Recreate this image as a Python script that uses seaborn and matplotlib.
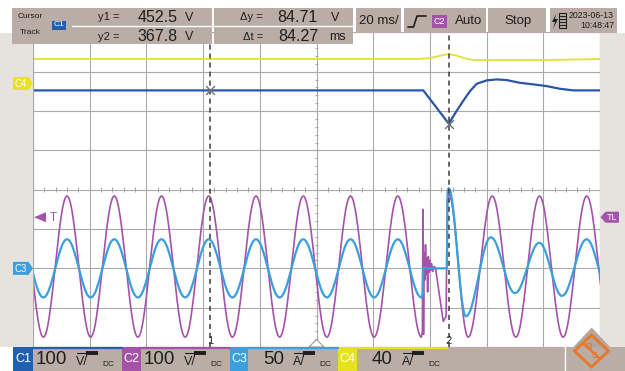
import numpy as np
import pandas as pd
import matplotlib
matplotlib.use("Agg")
import matplotlib.pyplot as plt
from matplotlib.patches import Rectangle, Polygon
import seaborn as sns

# ---------------- data (time in ms relative to trigger, 20 ms/div) ----------------
c2_pre_t = [-104.67, -96.33, -88.0, -79.67, -71.33, -63.0, -54.67, -46.33, -38.0,
            -29.67, -21.33, -13.0, -4.67, 3.67, 12.0, 20.33, 28.67, 37.0]
c2_pre_v = [184, -175, 184, -175, 184, -175, 184, -175, 184,
            -175, 184, -175, 184, -175, 184, -175, 184, -175]
c2_evt_t = [37.35, 37.55, 37.75, 37.95, 38.2, 38.45, 38.7, 38.95, 39.2, 39.45,
            39.7, 40.0, 40.3, 40.6, 41.0, 41.5, 42.0, 44.7, 45.7, 46.15]
c2_evt_v = [-160, 150, -168, 40, -30, 60, -15, 25, -60, 30,
            -10, 20, -5, 12, -8, 5, 0, -135, -122, 175]
c2_post_t = [46.67, 53.5, 62.0, 70.33, 78.67, 87.0, 95.33, 103.67]
c2_post_v = [188, -175, 184, -175, 184, -175, 184, -175]

# C3 (light blue, A)
c3_pre_t = [-104.67, -96.33, -88.0, -79.67, -71.33, -63.0, -54.67, -46.33, -38.0,
            -29.67, -21.33, -13.0, -4.67, 3.67, 12.0, 20.33, 28.67, 37.0]
c3_pre_v = [37, -37, 37, -37, 37, -37, 37, -37, 37,
            -37, 37, -37, 37, -37, 37, -37, 37, -37]
c3_evt_t = [37.45, 37.6, 46.0, 46.25]
c3_evt_v = [-33, 0, 0, 98]
c3_post_t = [46.6, 52.7, 61.5, 70.0, 78.6, 86.6, 95.3, 103.7]
c3_post_v = [102, -61, 39.5, -31.5, 32.5, -35, 37, -37]

# C1 (dark blue, V)
c1_t = [-100, 37.67, 46.67, 49.38, 51.7, 54.14, 56.5, 60.0, 63.56, 67.1,
        71.8, 76.5, 81.2, 85.9, 90.6, 100]
c1_v = [452.5, 452.5, 367.8, 399.9, 425.3, 450.7, 469.3, 477.9, 480.5, 478.7,
        471.8, 467.8, 463.4, 456.6, 452.5, 452.5]

# C4 (yellow, A)
c4_t = [-100, 35.3, 40.0, 44.0, 46.67, 49.5, 52.5, 55.3, 80.0, 100]
c4_v = [24.9, 24.9, 25.8, 28.5, 30.0, 28.3, 25.5, 23.9, 23.9, 24.9]

# channel settings
ch_names = ["C1", "C2", "C3", "C4"]
ch_scale = [100, 100, 50, 40]          # units / div
ch_unit = ["V", "V", "A", "A"]
ch_offset = [-2.0, -2.0, -2.0, 2.7]    # div
ch_color = ["#2a55a8", "#a452aa", "#3a9fdc", "#e4e03a"]
ch_tag = ["#2160ae", "#a452aa", "#3a9fdc", "#e8e21e"]

cursor_t = [-37.6, 46.67]
cursor_v = [452.5, 367.8]
trig_level_div = -0.7

# ---------------- helpers ----------------
def wave(ts, vs, n=24):
    """smooth half-cosine drawing between consecutive read extrema"""
    tt, vv = [], []
    for i in range(len(ts) - 1):
        s = np.linspace(0.0, 1.0, n, endpoint=False)
        tt.extend(ts[i] + (ts[i + 1] - ts[i]) * s)
        vv.extend(vs[i] + (vs[i + 1] - vs[i]) * (1 - np.cos(np.pi * s)) / 2)
    tt.append(ts[-1]); vv.append(vs[-1])
    return list(tt), list(vv)


def frame(t, v, idx):
    v = np.asarray(v, float)
    return pd.DataFrame({"t": t, "div": v / ch_scale[idx] + ch_offset[idx]})


a_t, a_v = wave(c2_pre_t, c2_pre_v)
b_t, b_v = wave(c2_post_t, c2_post_v)
df_c2 = frame(a_t + c2_evt_t + b_t, a_v + c2_evt_v + b_v, 1)
a_t, a_v = wave(c3_pre_t, c3_pre_v)
b_t, b_v = wave(c3_post_t, c3_post_v)
df_c3 = frame(a_t + c3_evt_t + b_t, a_v + c3_evt_v + b_v, 2)
df_c1 = frame(c1_t, c1_v, 0)
df_c4 = frame(c4_t, c4_v, 3)

# ---------------- figure ----------------
sns.set_theme(style="white")
plt.rcParams["font.family"] = ["Liberation Sans Narrow", "Liberation Sans", "DejaVu Sans"]

W, H = 625, 371
PL, PR, PT, PB = 33, 600, 32.4, 347
fig = plt.figure(figsize=(6.25, 3.71), dpi=100, facecolor="white")
ax = fig.add_axes([PL / W, 1 - PB / H, (PR - PL) / W, (PB - PT) / H], zorder=1)
ax.set_facecolor("white")

grid_c = "#a9a9a9"
ax.set_xlim(-100, 100)
ax.set_ylim(-4, 4)
ax.set_xticks(np.arange(-100, 101, 20))
ax.set_yticks(np.arange(-4, 5, 1))
ax.grid(True, color=grid_c, lw=0.8)
ax.tick_params(length=0, labelbottom=False, labelleft=False)
for sp in ax.spines.values():
    sp.set_color(grid_c); sp.set_linewidth(0.8)
ax.vlines(np.arange(-100, 101, 4), -0.07, 0.07, color=grid_c, lw=0.8)
ax.hlines(np.arange(-4, 4.01, 0.2), -0.6, 0.6, color=grid_c, lw=0.8)

sns.lineplot(data=df_c4, x="t", y="div", ax=ax, color=ch_color[3], lw=1.3,
             estimator=None, sort=False, legend=False)
sns.lineplot(data=df_c1, x="t", y="div", ax=ax, color=ch_color[0], lw=1.6,
             estimator=None, sort=False, legend=False)
sns.lineplot(data=df_c2, x="t", y="div", ax=ax, color=ch_color[1], lw=1.2,
             estimator=None, sort=False, legend=False)
sns.lineplot(data=df_c3, x="t", y="div", ax=ax, color=ch_color[2], lw=1.6,
             estimator=None, sort=False, legend=False)
ax.set_xlabel(""); ax.set_ylabel("")

for t in cursor_t:
    ax.axvline(t, color="#3a3a3a", lw=1.1, ls=(0, (3.3, 2.6)), zorder=5)
ax.scatter(cursor_t, np.array(cursor_v) / ch_scale[0] + ch_offset[0], marker="x",
           s=40, color="#707070", lw=1.0, zorder=6)

# ---------------- overlay (pixel coordinates) ----------------
ov = fig.add_axes([0, 0, 1, 1], zorder=10)
ov.set_xlim(0, W); ov.set_ylim(H, 0); ov.axis("off")


def ypx(div):
    return PT + (4 - div) * (PB - PT) / 8


def xpx(t):
    return PL + (t + 100) * (PR - PL) / 200


def rect(x0, y0, x1, y1, c, **kw):
    ov.add_patch(Rectangle((x0, y0), x1 - x0, y1 - y0, color=c, lw=0, **kw))


strip = "#e6e2de"
hdr = "#b9ada5"
rect(0, 33, PL, PB, strip)
rect(PR, 33, W, PB, strip)

# header boxes
for x0, x1, y1 in [(12, 212, 44), (214, 353, 44), (356, 401, 33), (404, 486, 33),
                   (488, 546, 33), (550, 617, 33)]:
    rect(x0, 8, x1, y1, hdr)
ov.plot([72, 212], [25.5, 25.5], color="white", lw=1.0)
ov.plot([214, 353], [25.5, 25.5], color="white", lw=1.0)

tx = dict(color="#1e1e1e", va="center")
ov.text(30, 16, "Cursor", fontsize=6, ha="center", **tx)
ov.text(30, 33, "Track", fontsize=6, ha="center", **tx)
rect(52, 20.5, 66, 29.5, ch_tag[0])
ov.text(59, 25, "C1", fontsize=6, ha="center", va="center", color="white")
ov.text(119, 17.5, "y1 =", fontsize=8, ha="right", **tx)
ov.text(178, 18, "452.5", fontsize=11.5, ha="right", **tx)
ov.text(189, 18, "V", fontsize=9, ha="center", **tx)
ov.text(119, 36.5, "y2 =", fontsize=8, ha="right", **tx)
ov.text(178, 36.5, "367.8", fontsize=11.5, ha="right", **tx)
ov.text(189, 36.5, "V", fontsize=9, ha="center", **tx)
ov.text(263, 17.5, "\u0394y =", fontsize=8, ha="right", **tx)
ov.text(318, 18, "84.71", fontsize=11.5, ha="right", **tx)
ov.text(335, 18, "V", fontsize=9, ha="center", **tx)
ov.text(263, 36.5, "\u0394t =", fontsize=8, ha="right", **tx)
ov.text(318, 36.5, "84.27", fontsize=11.5, ha="right", **tx)
ov.text(337, 37, "ms", fontsize=9, ha="center", **tx)
ov.text(378.5, 21, "20 ms/", fontsize=9.5, ha="center", **tx)
ov.plot([408, 413.5, 417, 426], [27, 27, 16, 16], color="#1e1e1e", lw=1.2)
rect(432, 14.5, 447, 28, ch_tag[1])
ov.text(439.5, 21.3, "C2", fontsize=6.5, ha="center", va="center", color="white")
ov.text(469, 21, "Auto", fontsize=9.5, ha="center", **tx)
ov.text(518, 21, "Stop", fontsize=9.5, ha="center", **tx)
# battery icon
ov.add_patch(Rectangle((559, 13), 7, 15, fill=False, ec="#1e1e1e", lw=0.8))
for yy in [16, 19, 22, 25]:
    ov.plot([560, 565], [yy, yy], color="#1e1e1e", lw=0.8)
ov.add_patch(Polygon([(556, 14), (552, 22), (555, 22), (553, 29), (558, 19), (555, 19)],
                     color="#1e1e1e", lw=0))
ov.text(614, 15, "2023-06-13", fontsize=6.3, ha="right", **tx)
ov.text(614, 25.5, "10:48:47", fontsize=6.3, ha="right", **tx)

# footer
rect(13, 347, W, H, hdr)
box_x = [(13, 33, 122), (122, 141, 230), (230, 248, 338), (338, 357, 447)]
num_txt = ["100", "100", "50", "40"]
num_right = [67, 175, 284, 393]
for i, (xa, xb, xc) in enumerate(box_x):
    rect(xa, 347, xb, H, ch_tag[i])
    ov.plot([xb, xc], [347.8, 347.8], color=ch_tag[i], lw=1.6)
    ov.text((xa + xb) / 2, 359.5, ch_names[i], fontsize=9, ha="center", va="center",
            color="white")
    ov.text(num_right[i], 360, num_txt[i], fontsize=13.5, ha="right", **tx)
    ux = num_right[i] + 8.5
    ov.text(ux, 362, ch_unit[i] + "/", fontsize=9, ha="left", **tx)
    ov.plot([ux + 1, ux + 11], [352.5, 352.5], color="#1e1e1e", lw=0.8)
    ov.plot([ux + 10, ux + 22], [352.5, 352.5], color="#1e1e1e", lw=2.8,
            solid_capstyle="butt")
    ov.plot([ux + 10.5, ux + 10.5], [350.5, 355.5], color="#1e1e1e", lw=0.8)
    ov.text(ux + 27, 364, "DC", fontsize=6, ha="left", **tx)
ov.plot([565, 565], [347, H], color="white", lw=1)

# R&S logo tab
ov.add_patch(Polygon([(573, 347.5), (591.7, 327.5), (610.5, 347.5)], color="#b2a69e", lw=0))
orange = "#e8772a"
ov.add_patch(Polygon([(591.5, 335), (608.5, 351), (591.5, 367), (574.5, 351)],
                     fill=False, ec=orange, lw=2.0))
ov.plot([583, 600], [343, 359], color=orange, lw=1.6)
ov.text(588.5, 346.5, "R", fontsize=6.5, ha="center", va="center", color=orange,
        fontweight="bold")
ov.text(595, 356, "S", fontsize=6.5, ha="center", va="center", color=orange,
        fontweight="bold")

# channel markers on the left
for idx in [3, 2]:
    yc = ypx(ch_offset[idx])
    ov.add_patch(Polygon([(13, yc - 6.5), (28.5, yc - 6.5), (33, yc), (28.5, yc + 6.5),
                          (13, yc + 6.5)], color=ch_tag[idx], lw=0))
    ov.text(21, yc + 0.3, ch_names[idx], fontsize=7, ha="center", va="center",
            color="white")

# trigger level markers
yt = ypx(trig_level_div)
ov.add_patch(Polygon([(34, yt), (46, yt - 5), (46, yt + 5)], color=ch_tag[1], lw=0))
ov.text(50, yt + 0.5, "T", fontsize=8.5, ha="left", va="center", color=ch_tag[1])
ov.add_patch(Polygon([(600.5, yt), (605.5, yt - 5.5), (619, yt - 5.5), (619, yt + 5.5),
                      (605.5, yt + 5.5)], color=ch_tag[1], lw=0))
ov.text(612, yt + 0.3, "TL", fontsize=6.5, ha="center", va="center", color="white")

# trigger position marker & cursor labels
xc = xpx(0)
ov.add_patch(Polygon([(xc - 7.5, 347), (xc, 339.5), (xc + 7.5, 347)], fc="white",
                     ec="#9a9a9a", lw=0.8))
for k, t in enumerate(cursor_t):
    ov.text(xpx(t), 341.5, str(k + 1), fontsize=8, ha="center", va="center",
            color="#333333")

fig.savefig("out.png", dpi=100, facecolor="white")
